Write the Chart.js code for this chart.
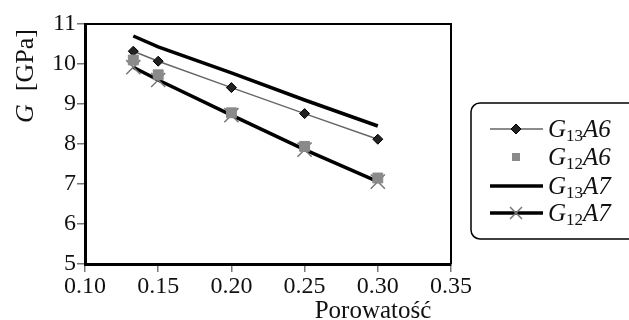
<!DOCTYPE html>
<html lang="pl">
  <head>
    <meta charset="UTF-8" />
    <title>G vs porowatość</title>
    <script src="https://cdn.jsdelivr.net/npm/chart.js"></script>
    <style>
      body { margin: 0; background: #fff; }
      .wrap { width: 629px; height: 320px; position: relative; }
    </style>
  </head>
  <body>
    <div class="wrap"><canvas id="myChart"></canvas></div>
    <script>
      const porowatosc = [0.133, 0.15, 0.2, 0.25, 0.3];
      const g13A6 = [10.32, 10.07, 9.41, 8.76, 8.12];
      const g12A6 = [10.1, 9.73, 8.78, 7.94, 7.15];
      const g13A7 = [10.7, 10.43, 9.78, 9.1, 8.45];
      const g12A7 = [9.92, 9.6, 8.72, 7.86, 7.06];
      const xTicks = [0.1, 0.15, 0.2, 0.25, 0.3, 0.35];
      const yTicks = [5, 6, 7, 8, 9, 10, 11];

      const serif = '"Liberation Serif", "Times New Roman", serif';
      const pts = (ys) => ys.map((y, i) => ({ x: porowatosc[i], y: y }));

      const legendItems = [
        { sub: "13", tail: "A6", line: "#666", lw: 1.5, marker: "diamond" },
        { sub: "12", tail: "A6", line: null, lw: 0, marker: "square" },
        { sub: "13", tail: "A7", line: "#000", lw: 3.5, marker: null },
        { sub: "12", tail: "A7", line: "#000", lw: 3.5, marker: "cross" },
      ];

      function drawMarker(ctx, kind, x, y) {
        ctx.save();
        if (kind === "diamond") {
          ctx.fillStyle = "#222";
          ctx.strokeStyle = "#000";
          ctx.lineWidth = 1;
          ctx.beginPath();
          ctx.moveTo(x, y - 5); ctx.lineTo(x + 5, y); ctx.lineTo(x, y + 5); ctx.lineTo(x - 5, y);
          ctx.closePath(); ctx.fill(); ctx.stroke();
        } else if (kind === "square") {
          ctx.fillStyle = "#8a8a8a";
          ctx.fillRect(x - 4, y - 4, 8, 8);
        } else if (kind === "cross") {
          ctx.strokeStyle = "#777";
          ctx.lineWidth = 1.5;
          ctx.beginPath();
          ctx.moveTo(x - 6, y - 6); ctx.lineTo(x + 6, y + 6);
          ctx.moveTo(x + 6, y - 6); ctx.lineTo(x - 6, y + 6);
          ctx.stroke();
        }
        ctx.restore();
      }

      function drawLabel(ctx, x, y, sub, tail) {
        ctx.textAlign = "left";
        ctx.textBaseline = "alphabetic";
        ctx.font = "italic 25px " + serif;
        ctx.fillText("G", x, y);
        x += ctx.measureText("G").width;
        ctx.font = "17px " + serif;
        ctx.fillText(sub, x, y + 4);
        x += ctx.measureText(sub).width;
        ctx.font = "italic 25px " + serif;
        ctx.fillText(tail, x, y);
      }

      const extras = {
        id: "extras",
        afterDraw(chart) {
          const ctx = chart.ctx;
          const a = chart.chartArea;
          ctx.save();
          // top and right frame
          ctx.strokeStyle = "#000";
          ctx.lineWidth = 2;
          ctx.beginPath();
          ctx.moveTo(a.left, a.top); ctx.lineTo(a.right, a.top); ctx.lineTo(a.right, a.bottom);
          ctx.stroke();

          ctx.fillStyle = "#111";
          // x title
          ctx.font = "25px " + serif;
          ctx.textAlign = "center";
          ctx.textBaseline = "alphabetic";
          ctx.fillText("Porowatość", 373, 318);

          // y title
          ctx.save();
          ctx.translate(33, 76);
          ctx.rotate(-Math.PI / 2);
          ctx.font = "italic 26px " + serif;
          const gW = ctx.measureText("G").width;
          ctx.font = "26px " + serif;
          const rW = ctx.measureText("  [GPa]").width;
          let sx = -(gW + rW) / 2;
          ctx.textAlign = "left";
          ctx.font = "italic 26px " + serif;
          ctx.fillText("G", sx, 0);
          ctx.font = "26px " + serif;
          ctx.fillText("  [GPa]", sx + gW, 0);
          ctx.restore();

          // legend box
          const bx = 471, by = 103, bw = 170, bh = 136, r = 9;
          ctx.strokeStyle = "#000";
          ctx.lineWidth = 1.5;
          ctx.beginPath();
          ctx.roundRect(bx, by, bw, bh, r);
          ctx.stroke();

          const rows = [129, 157, 186, 213];
          legendItems.forEach((it, i) => {
            const y = rows[i];
            if (it.line) {
              ctx.strokeStyle = it.line;
              ctx.lineWidth = it.lw;
              ctx.beginPath();
              ctx.moveTo(490, y); ctx.lineTo(543, y);
              ctx.stroke();
            }
            if (it.marker) drawMarker(ctx, it.marker, 516, y);
            ctx.fillStyle = "#111";
            drawLabel(ctx, 548, y + 8, it.sub, it.tail);
          });
          ctx.restore();
        },
      };

      const data = {
        datasets: [
          {
            label: "G12A6",
            data: pts(g12A6),
            showLine: false,
            pointStyle: "rect",
            pointRadius: 7,
            backgroundColor: "#8a8a8a",
            borderColor: "#8a8a8a",
            order: 1,
          },
          {
            label: "G13A6",
            data: pts(g13A6),
            showLine: true,
            borderColor: "#666",
            borderWidth: 1.5,
            pointStyle: "rectRot",
            pointRadius: 5,
            pointBackgroundColor: "#222",
            pointBorderColor: "#000",
            pointBorderWidth: 1,
            order: 2,
          },
          {
            label: "G12A7",
            data: pts(g12A7),
            showLine: true,
            borderColor: "#000",
            borderWidth: 3.5,
            pointStyle: "crossRot",
            pointRadius: 10,
            pointBorderColor: "#777",
            pointBorderWidth: 1.5,
            order: 3,
          },
          {
            label: "G13A7",
            data: pts(g13A7),
            showLine: true,
            borderColor: "#000",
            borderWidth: 3.5,
            pointRadius: 0,
            order: 4,
          },
        ],
      };

      const config = {
        type: "scatter",
        data: data,
        options: {
          responsive: true,
          maintainAspectRatio: false,
          animation: false,
          layout: { padding: { top: 24, right: 178, bottom: 0, left: 0 } },
          plugins: { legend: { display: false }, tooltip: { enabled: false } },
          scales: {
            x: {
              type: "linear",
              min: 0.1,
              max: 0.35,
              afterFit: (s) => { s.height = 56; },
              afterBuildTicks: (s) => { s.ticks = xTicks.map((v) => ({ value: v })); },
              ticks: {
                color: "#111",
                padding: 0,
                font: { family: serif, size: 24 },
                callback: (v) => v.toFixed(2),
              },
              grid: { drawOnChartArea: false, tickLength: 8, color: "#777", lineWidth: 1.5 },
              border: { color: "#000", width: 3 },
            },
            y: {
              min: 5,
              max: 11,
              afterFit: (s) => { s.width = 85; },
              afterBuildTicks: (s) => { s.ticks = yTicks.map((v) => ({ value: v })); },
              ticks: {
                color: "#111",
                padding: 1,
                font: { family: serif, size: 24 },
              },
              grid: { drawOnChartArea: false, tickLength: 8, color: "#777", lineWidth: 1.5 },
              border: { color: "#000", width: 3 },
            },
          },
        },
        plugins: [extras],
      };

      const myChart = new Chart(document.getElementById("myChart"), config);
    </script>
  </body>
</html>
